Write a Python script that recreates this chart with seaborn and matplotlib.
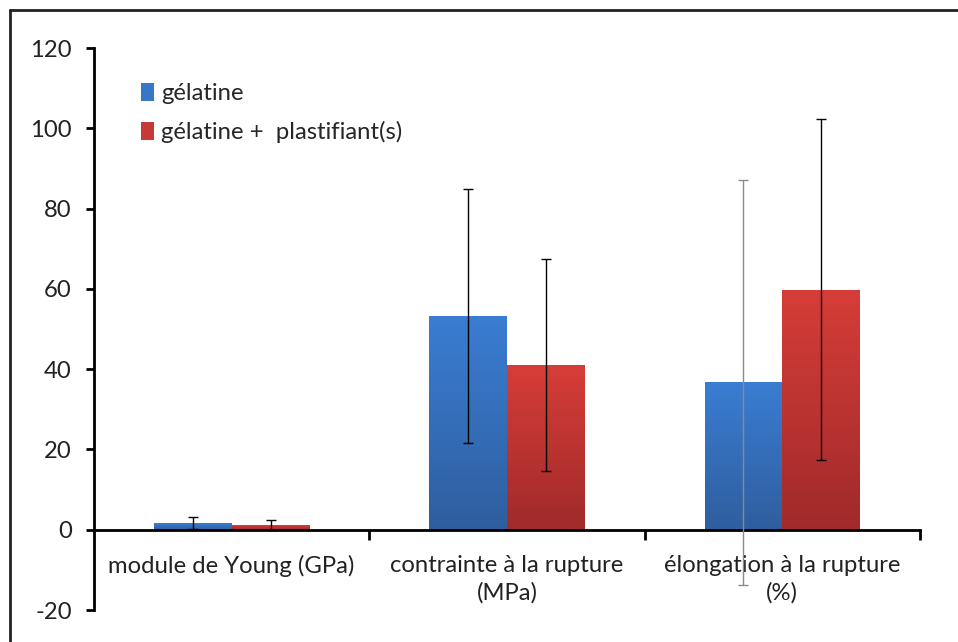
import numpy as np
import pandas as pd
import matplotlib
matplotlib.use("Agg")
import matplotlib.pyplot as plt
import seaborn as sns
from matplotlib.colors import LinearSegmentedColormap
from matplotlib.lines import Line2D

# Mechanical properties of gelatin films, with and without plasticiser(s)
categories = ["module de Young (GPa)", "contrainte à la rupture\n(MPa)", "élongation à la rupture\n(%)"]
series = ["gélatine", "gélatine +  plastifiant(s)"]
gelatine_mean = [1.7, 53.3, 36.7]
gelatine_err = [1.5, 31.6, 50.5]
plastifiant_mean = [1.2, 41.1, 59.8]
plastifiant_err = [1.3, 26.4, 42.5]
y_ticks = [-20, 0, 20, 40, 60, 80, 100, 120]

df = pd.DataFrame({
    "propriete": categories * 2,
    "serie": [series[0]] * 3 + [series[1]] * 3,
    "valeur": gelatine_mean + plastifiant_mean,
})

sns.set_theme(style="white")
plt.rcParams["font.family"] = ["Lato", "DejaVu Sans"]

fig = plt.figure(figsize=(9.58, 6.42), dpi=100)
ax = fig.add_axes([0.0981, 0.0498, 0.8622, 0.8754])

palette = {series[0]: "#3777c8", series[1]: "#c53a37"}
sns.barplot(data=df, x="propriete", y="valeur", hue="serie", order=categories,
            hue_order=series, palette=palette, width=0.565, gap=0,
            saturation=1, errorbar=None, ax=ax, legend=False, zorder=2)

ax.set_ylim(-20, 120)
ax.set_xlim(-0.5, 2.5)

# vertical gradient fill for each bar (lighter at the top, darker at the base)
grad_maps = {
    series[0]: LinearSegmentedColormap.from_list("b", ["#2f5e9e", "#3a7dd2"]),
    series[1]: LinearSegmentedColormap.from_list("r", ["#a02a2a", "#d63d38"]),
}
grad = np.linspace(0, 1, 256).reshape(-1, 1)
bars = ax.patches[:6]
for i, p in enumerate(bars):
    name = series[i // 3]
    x0, w, h = p.get_x(), p.get_width(), p.get_height()
    im = ax.imshow(grad, extent=[x0, x0 + w, 0, h], origin="lower",
                   cmap=grad_maps[name], aspect="auto", zorder=2.1)
    im.set_clip_path(p)
    p.set_facecolor("none")
    p.set_edgecolor("none")
ax.set_xlim(-0.5, 2.5)
ax.set_ylim(-20, 120)

# error bars
means = [gelatine_mean, plastifiant_mean]
errs = [gelatine_err, plastifiant_err]
for i, p in enumerate(bars):
    s, c = divmod(i, 3)
    xc = p.get_x() + p.get_width() / 2
    col = "#8a8a8a" if (s == 0 and c == 2) else "black"
    ax.errorbar(xc, means[s][c], yerr=errs[s][c], fmt="none", ecolor=col,
                elinewidth=1.0, capsize=3.5, capthick=1.0, zorder=3)

# axes styling
for side in ["top", "right"]:
    ax.spines[side].set_visible(False)
ax.spines["bottom"].set_position(("data", 0))
ax.spines["bottom"].set_linewidth(2)
ax.spines["left"].set_linewidth(2)
ax.spines["bottom"].set_color("black")
ax.spines["left"].set_color("black")
ax.spines["bottom"].set_zorder(2.5)

FS = 17.2
ax.set_yticks(y_ticks)
ax.set_yticklabels([str(t) for t in y_ticks], fontsize=FS, color="#222222")
ax.tick_params(axis="y", direction="out", length=6, width=2, color="black",
               left=True, pad=10)

ax.set_xticks([0.5, 1.5, 2.5])
ax.set_xticklabels([])
ax.tick_params(axis="x", which="major", direction="out", length=7, width=2,
               color="black", bottom=True)
ax.set_xticks([0, 1, 2], minor=True)
ax.set_xticklabels(categories, minor=True, fontsize=FS, color="#222222",
                   linespacing=1.35)
ax.tick_params(axis="x", which="minor", length=0, pad=18)

ax.set_xlabel("")
ax.set_ylabel("")
ax.grid(False)

handles = [matplotlib.patches.Patch(facecolor=palette[s], edgecolor="none") for s in series]
ax.legend(handles, series, loc="upper left", bbox_to_anchor=(0.137, 0.886),
          bbox_transform=fig.transFigure, frameon=False, fontsize=FS,
          handlelength=0.55, handleheight=0.8, handletextpad=0.3,
          labelspacing=0.72, borderaxespad=0)

# outer frame of the chart area
fig.add_artist(Line2D([0.0105, 1.0], [0.9845, 0.9845], transform=fig.transFigure,
                      color="#222222", lw=2))
fig.add_artist(Line2D([0.0105, 0.0105], [0.0, 0.9845], transform=fig.transFigure,
                      color="#222222", lw=2))

fig.savefig("out.png", dpi=100, facecolor="white")
